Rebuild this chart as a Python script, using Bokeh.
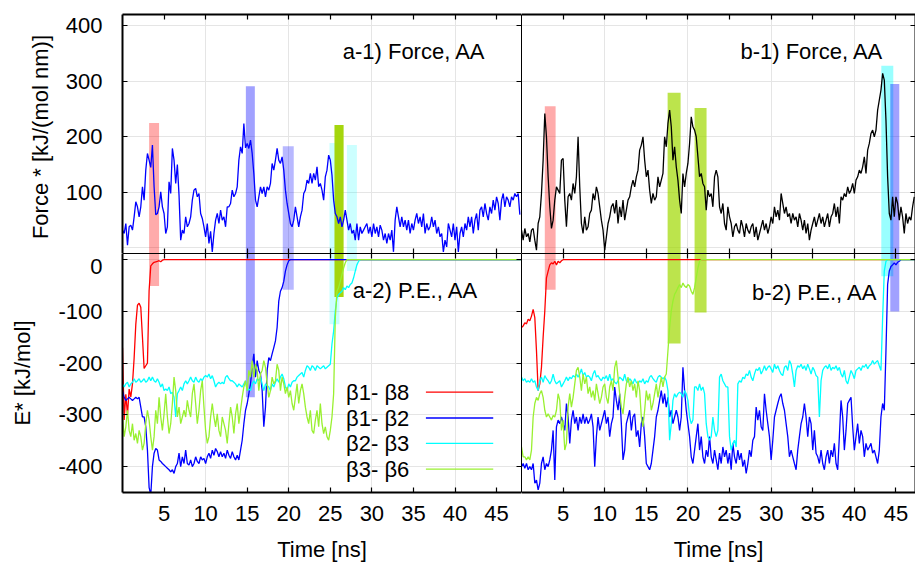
import numpy as np
from bokeh.plotting import figure
from bokeh.models import LinearAxis, FixedTicker, Range1d, Label, Arrow
from bokeh.layouts import column, row
from bokeh.embed import file_html
from bokeh.resources import INLINE

# ---------------- data ----------------
DT = 0.2  # ns between samples
X_END_A = 48.0
X_END_B = 47.35

# a-1) force, AA (kJ/(mol nm))
force_a = [
    32, 26, 44, 5, 38, 41, 32, 56, 83, 74,
    56, 74, 110, 86, 140, 170, 158, 145, 185, 110,
    60, 62, 74, 101, 74, 62, 26, 38, 119, 98,
    179, 158, 116, 150, 95, 14, 32, 26, 56, 38,
    44, 56, 86, 104, 107, 92, 98, 62, 53, 38,
    20, 44, 8, 30, -7, 26, 50, 62, 44, 68,
    50, 56, 38, 74, 74, 80, 104, 92, 98, 110,
    158, 182, 170, 224, 180, 188, 179, 194, 170, 134,
    86, 74, 92, 110, 98, 110, 92, 110, 104, 116,
    152, 140, 158, 179, 158, 152, 164, 140, 104, 80,
    62, 44, 38, 50, 74, 56, 38, 56, 68, 98,
    104, 122, 116, 134, 116, 134, 122, 146, 110, 116,
    104, 86, 128, 140, 167, 158, 131, 86, 62, 56,
    44, 56, 38, 50, 68, 50, 32, 44, 26, 32,
    14, 44, 14, 38, 26, 32, 38, 44, 26, 38,
    20, 44, 26, 38, 20, 41, 32, 14, 26, 8,
    26, 14, 32, -7, 50, 74, 56, 38, 56, 38,
    50, 32, 50, 26, 44, 32, 50, 62, 44, 56,
    38, 62, 26, 44, 32, 38, 56, 38, 50, 26,
    38, 20, 26, -7, 14, 2, 44, 32, 20, 44,
    14, 38, -7, 26, 38, 20, 44, 32, 56, 38,
    56, 26, 50, 62, 32, 68, 74, 56, 80, 62,
    50, 74, 62, 86, 68, 92, 80, 50, 86, 98,
    74, 92, 86, 74, 92, 86, 98, 92, 98, 60,
]

# b-1) force, AA (kJ/(mol nm))
force_b = [
    32, 14, 35, 20, 26, 11, 32, 35, 14, -4,
    44, 56, 98, 158, 242, 200, 128, 74, 35, 50,
    86, 110, 104, 98, 158, 161, 86, 38, 92, 98,
    86, 116, 98, 128, 200, 110, 44, 26, 56, 32,
    38, 62, 68, 98, 86, 110, 98, 74, 50, 32,
    -4, 20, 44, 56, 74, 80, 62, 86, 44, 74,
    56, 86, 50, 68, 86, 92, 110, 122, 110, 128,
    140, 176, 185, 200, 158, 128, 140, 104, 80, 98,
    86, 92, 128, 110, 122, 134, 200, 182, 224, 248,
    218, 158, 182, 146, 122, 86, 62, 134, 110, 134,
    152, 188, 236, 218, 212, 200, 164, 128, 134, 116,
    110, 68, 104, 92, 98, 74, 128, 140, 128, 74,
    62, 80, 44, 32, 74, 56, 44, 20, 38, 44,
    32, 26, 50, 38, 20, 44, 32, 26, 38, 44,
    20, 38, 14, 26, 38, 50, 32, 44, 26, 38,
    56, 44, 74, 56, 68, 50, 98, 80, 62, 74,
    56, 62, 44, 62, 50, 56, 38, 62, 50, 32,
    50, 26, 44, 14, 32, 44, 56, 38, 50, 62,
    44, 56, 38, 50, 62, 38, 56, 62, 80, 56,
    74, 44, 92, 86, 98, 92, 110, 98, 104, 116,
    98, 122, 128, 140, 134, 146, 164, 134, 176, 188,
    206, 212, 200, 212, 248, 266, 284, 314, 302, 230,
    128, 62, 50, 92, 56, 92, 80, 50, 74, 56,
    26, 62, 44, 56, 50, 74, 92,
]

# a-2) P.E., AA (kJ/mol); each series stays at 0 after its last sample
a_b1b8 = [
    -170, -310, -260, -300, -250, -265, -240, -190, -125, -88,
    -84, -92, -150, -210, -205, -200, -60, -12, -8, -5,
    -4, -3, -2, -4, -1, 0,
]
a_b1b2 = [
    -253, -266, -272, -269, -266, -269, -272, -269, -266, -269,
    -266, -285, -304, -304, -323, -368, -440, -455, -400, -374,
    -365, -368, -387, -390, -394, -397, -400, -403, -406, -410,
    -406, -413, -400, -394, -374, -400, -381, -394, -368, -394,
    -397, -387, -400, -394, -381, -390, -394, -381, -387, -384,
    -394, -381, -374, -384, -368, -378, -365, -371, -381, -371,
    -381, -374, -384, -368, -378, -384, -371, -381, -387, -378,
    -387, -368, -349, -317, -291, -278, -259, -240, -208, -182,
    -227, -195, -214, -221, -253, -323, -285, -214, -189, -195,
    -182, -170, -157, -131, -80, -61, -54, -42, -22, -10,
    -2, 0,
]
a_b2b3 = [
    -240, -246, -240, -237, -246, -240, -237, -230, -237, -234,
    -230, -237, -234, -230, -237, -234, -227, -234, -227, -234,
    -237, -230, -237, -246, -240, -253, -250, -253, -246, -259,
    -256, -266, -304, -259, -253, -246, -253, -240, -234, -240,
    -234, -227, -234, -237, -227, -234, -237, -230, -234, -227,
    -224, -227, -221, -230, -224, -234, -246, -240, -237, -240,
    -237, -240, -227, -224, -230, -234, -234, -237, -240, -246,
    -240, -243, -246, -240, -234, -253, -250, -253, -240, -234,
    -240, -230, -234, -227, -240, -253, -240, -243, -246, -253,
    -240, -246, -237, -230, -237, -227, -221, -230, -246, -253,
    -240, -246, -237, -234, -234, -227, -224, -221, -218, -227,
    -214, -205, -208, -214, -205, -208, -214, -205, -208, -211,
    -208, -205, -211, -208, -205, -202, -163, -138, -99, -74,
    -67, -64, -61, -54, -58, -51, -54, -48, -45, -35,
    -22, -10, -3, 0,
]
a_b3b6 = [
    -304, -342, -323, -291, -330, -342, -317, -349, -336, -355,
    -330, -342, -368, -355, -317, -291, -310, -342, -368, -342,
    -291, -317, -266, -304, -330, -298, -259, -304, -336, -317,
    -278, -227, -253, -304, -285, -317, -304, -291, -304, -272,
    -291, -304, -259, -240, -278, -317, -291, -253, -234, -285,
    -330, -355, -342, -304, -278, -304, -323, -298, -330, -342,
    -304, -317, -330, -355, -317, -285, -304, -336, -298, -278,
    -317, -291, -266, -246, -234, -253, -214, -227, -195, -227,
    -202, -214, -253, -221, -214, -195, -208, -240, -266, -253,
    -227, -240, -234, -202, -214, -253, -227, -240, -259, -246,
    -266, -253, -278, -291, -266, -240, -278, -253, -240, -259,
    -285, -304, -317, -291, -330, -336, -310, -291, -323, -278,
    -317, -336, -323, -342, -349, -330, -304, -259, -112, -61,
    -54, -42, -29, -16, -6, 0,
]

# b-2) P.E., AA (kJ/mol)
b_b1b8 = [
    -131, -128, -122, -124, -115, -118, -109, -96, -112, -176,
    -253, -240, -208, -150, -99, -35, -22, -10, -6, -8,
    -3, -10, -3, -6, -2, 0,
]
b_b1b2 = [
    -400, -394, -403, -394, -406, -400, -406, -394, -432, -426,
    -445, -432, -394, -381, -406, -394, -400, -387, -368, -330,
    -426, -323, -310, -317, -304, -317, -330, -278, -304, -355,
    -310, -291, -317, -304, -330, -304, -317, -298, -317, -304,
    -317, -310, -298, -323, -400, -342, -304, -330, -317, -304,
    -291, -317, -304, -342, -317, -304, -246, -272, -291, -259,
    -317, -387, -368, -317, -304, -291, -330, -304, -298, -342,
    -330, -362, -317, -304, -342, -394, -400, -406, -394, -368,
    -342, -304, -291, -272, -253, -278, -259, -285, -266, -304,
    -291, -317, -304, -291, -304, -330, -304, -208, -253, -291,
    -317, -342, -381, -394, -368, -342, -317, -368, -342, -381,
    -394, -368, -381, -342, -381, -394, -368, -387, -406, -374,
    -394, -362, -381, -368, -394, -374, -406, -355, -381, -394,
    -368, -387, -374, -400, -387, -413, -394, -368, -381, -349,
    -342, -285, -310, -291, -323, -330, -259, -291, -317, -342,
    -387, -349, -304, -291, -278, -266, -259, -278, -291, -317,
    -342, -381, -368, -381, -394, -406, -368, -342, -317, -304,
    -278, -304, -342, -304, -317, -368, -330, -374, -381, -394,
    -368, -394, -406, -381, -368, -394, -368, -381, -355, -394,
    -406, -342, -272, -304, -368, -330, -278, -272, -266, -323,
    -368, -342, -317, -355, -330, -342, -381, -355, -368, -362,
    -355, -374, -368, -381, -394, -368, -304, -278, -291, -176,
    -48, -22, -13, -10, -6, -10, -5, -3, 0,
]
b_b2b3 = [
    -227, -234, -230, -237, -234, -237, -230, -237, -234, -246,
    -253, -234, -227, -237, -224, -230, -234, -240, -234, -221,
    -234, -240, -237, -234, -246, -240, -234, -227, -234, -227,
    -230, -224, -227, -221, -227, -221, -211, -224, -218, -227,
    -224, -227, -234, -221, -214, -227, -224, -230, -234, -227,
    -230, -224, -234, -221, -234, -230, -237, -240, -234, -227,
    -230, -234, -221, -234, -237, -230, -234, -240, -230, -237,
    -240, -234, -237, -230, -240, -234, -237, -227, -224, -230,
    -234, -237, -227, -224, -227, -230, -227, -234, -253, -349,
    -317, -272, -259, -266, -259, -256, -259, -266, -253, -259,
    -272, -304, -317, -310, -246, -246, -253, -240, -253, -246,
    -259, -317, -342, -349, -342, -304, -330, -342, -330, -227,
    -221, -234, -240, -246, -246, -342, -368, -355, -349, -362,
    -240, -234, -237, -227, -230, -221, -224, -214, -227, -234,
    -221, -211, -214, -208, -221, -214, -205, -214, -208, -205,
    -211, -218, -202, -211, -205, -214, -221, -224, -208, -205,
    -214, -195, -202, -221, -246, -214, -205, -208, -202, -211,
    -205, -214, -202, -211, -221, -208, -214, -224, -227, -304,
    -234, -214, -208, -205, -211, -202, -214, -208, -211, -205,
    -214, -208, -221, -227, -214, -234, -240, -227, -214, -221,
    -230, -214, -211, -208, -214, -205, -208, -202, -211, -205,
    -202, -195, -202, -198, -195, -205, -214, -112, -22, -3,
    0,
]
b_b3b6 = [
    -362, -381, -381, -387, -381, -387, -368, -304, -278, -266,
    -272, -259, -253, -266, -291, -304, -298, -304, -310, -301,
    -304, -291, -259, -272, -330, -310, -368, -355, -285, -259,
    -285, -266, -240, -214, -208, -227, -253, -221, -240, -227,
    -259, -246, -266, -253, -272, -240, -259, -278, -266, -246,
    -240, -266, -278, -246, -234, -253, -208, -195, -227, -259,
    -285, -298, -266, -240, -227, -246, -234, -253, -240, -266,
    -234, -253, -304, -323, -291, -253, -272, -259, -291, -278,
    -259, -240, -266, -246, -227, -246, -227, -221, -176, -131,
    -99, -80, -67, -61, -54, -48, -54, -45, -51, -54,
    -48, -51, -61, -67, -54, -35, -16, -3, 0,
]

# highlighted events: start/end time (ns), top in force panel, bottom in P.E. panel
bars_a_start = [3.2, 14.84, 19.28, 24.9, 25.5, 27.0]
bars_a_end = [4.4, 15.92, 20.6, 26.1, 26.6, 28.2]
bars_a_force = [225, 291, 183, 189, 221, 185]
bars_a_energy = [-51, -266, -58, -125, -72, -22]

bars_b_start = [2.8, 17.56, 20.8, 43.24, 44.32]
bars_b_end = [4.1, 19.12, 22.24, 44.68, 45.4]
bars_b_force = [255, 279, 252, 328, 295]
bars_b_energy = [-58, -162, -102, -32, -100]

series_names = ["\u03b21- \u03b28", "\u03b21- \u03b22", "\u03b22- \u03b23", "\u03b23- \u03b26"]
x_ticks = [5, 10, 15, 20, 25, 30, 35, 40, 45]
force_ticks = [100, 200, 300, 400]
energy_ticks = [0, -100, -200, -300, -400]
energy_tick_labels = ["0", "-100", "-200", "-300", "-400"]

# ---------------- styles ----------------
FONT = "Liberation Sans"
FS = "22px"
SERIES_COLORS = ["#ff0000", "#0000ff", "#00ffff", "#99f030"]
bars_a_color = ["#ff0000", "#0000ff", "#0000ff", "#00ffff", "#a0d400", "#00ffff"]
bars_a_alpha = [0.33, 0.37, 0.28, 0.2, 0.95, 0.2]
bars_b_color = ["#ff0000", "#a0d800", "#a0d800", "#00ffff", "#0000ff"]
bars_b_alpha = [0.33, 0.7, 0.7, 0.4, 0.37]

F_RANGE = (-10, 420)
E_RANGE = (-450, 12)
# the "0" label of the P.E. axis sits on the panel boundary; its text is placed
# this many kJ/mol lower so that it stays inside the lower canvas
ZERO_LABEL_SHIFT = -13


def make_fig(width, height, x_end, yr, mb_left, mb_top, mb_bottom):
    p = figure(width=width, height=height,
               x_range=Range1d(0, x_end), y_range=Range1d(*yr),
               x_axis_location=None, y_axis_location=None,
               toolbar_location=None, output_backend="svg",
               min_border_left=mb_left, min_border_right=0,
               min_border_top=mb_top, min_border_bottom=mb_bottom)
    p.outline_line_color = None
    p.background_fill_color = "white"
    p.border_fill_color = "white"
    return p


def style_axis(ax, line_w, tick_in):
    ax.major_tick_out = 0
    ax.minor_tick_out = 0
    ax.axis_line_width = line_w
    ax.axis_line_color = "black"
    ax.major_tick_line_width = 1.2
    ax.major_tick_line_color = "black"
    ax.minor_tick_line_width = 1.2
    ax.minor_tick_line_color = "black"
    ax.major_tick_in = tick_in
    ax.minor_tick_in = 0


def set_title(ax, title, title_standoff):
    ax.axis_label = title
    ax.axis_label_text_font = FONT
    ax.axis_label_text_font_size = FS
    ax.axis_label_text_font_style = "normal"
    ax.axis_label_text_color = "black"
    ax.axis_label_standoff = title_standoff


def add_axis(p, side, ticks, line_w, labels=False, tick_in=5,
             standoff=0, title=None, title_standoff=0):
    ax = LinearAxis(ticker=FixedTicker(ticks=ticks, minor_ticks=[]))
    style_axis(ax, line_w, tick_in)
    if labels:
        ax.major_label_text_font = FONT
        ax.major_label_text_font_size = FS
        ax.major_label_text_color = "black"
        ax.major_label_standoff = standoff
        ax.major_label_overrides = {t: str(t) for t in ticks}
    else:
        ax.major_label_text_font_size = "0px"
        ax.major_label_text_color = None
        ax.major_label_standoff = 0
    if title:
        set_title(ax, title, title_standoff)
    p.add_layout(ax, side)
    return ax


def draw_force(p, vals, color, bs, be, bf, bcol, balpha):
    p.quad(left=bs, right=be, bottom=[F_RANGE[0]] * len(bs), top=bf,
           fill_color=bcol, fill_alpha=balpha, line_color=None)
    t = np.arange(len(vals)) * DT
    p.line(t, vals, line_color=color, line_width=1.3)


def draw_energy(p, series, x_end, bs, be, bb, bcol, balpha):
    p.quad(left=bs, right=be, bottom=bb, top=[E_RANGE[1]] * len(bs),
           fill_color=bcol, fill_alpha=balpha, line_color=None)
    for vals, col in zip(series, SERIES_COLORS):
        t = np.append(np.arange(len(vals)) * DT, x_end)
        v = np.append(np.array(vals, dtype=float), 0.0)
        p.line(t, v, line_color=col, line_width=1.3)


def add_label(p, text, x, y, align="right"):
    p.add_layout(Label(x=x, y=y, text=text, text_font=FONT, text_font_size=FS,
                       text_align=align, text_baseline="middle", text_color="black"))


# ---------------- panels ----------------
LEFT_W, RIGHT_W = 521, 394
TOP_H, BOT_H = 253, 315

tl = make_fig(LEFT_W, TOP_H, X_END_A, F_RANGE, 122, 14, 0)
add_axis(tl, "left", force_ticks, 2, labels=True, standoff=20,
         title="Force *  [kJ/(mol nm)]", title_standoff=10)
add_axis(tl, "above", x_ticks, 2)
add_axis(tl, "right", force_ticks, 1)
add_axis(tl, "below", x_ticks, 1)
draw_force(tl, force_a, "#0000ff", bars_a_start, bars_a_end, bars_a_force,
           bars_a_color, bars_a_alpha)
add_label(tl, "a-1) Force, AA", 43.7, 354)

tr = make_fig(RIGHT_W, TOP_H, X_END_B, F_RANGE, 0, 14, 0)
add_axis(tr, "left", [], 1, tick_in=0)
add_axis(tr, "above", x_ticks, 2)
add_axis(tr, "right", force_ticks, 2)
add_axis(tr, "below", x_ticks, 1)
draw_force(tr, force_b, "#000000", bars_b_start, bars_b_end, bars_b_force,
           bars_b_color, bars_b_alpha)
add_label(tr, "b-1) Force, AA", 43.5, 354)

bl = make_fig(LEFT_W, BOT_H, X_END_A, E_RANGE, 122, 0, 76)
# P.E. axis: tick marks drawn as minor ticks at the true values, labels as
# (mark-less) major ticks so that the "0" text can be nudged inside the canvas
label_pos = [t + (ZERO_LABEL_SHIFT if t == 0 else 0) for t in energy_ticks]
e_axis = LinearAxis(ticker=FixedTicker(ticks=label_pos, minor_ticks=energy_ticks))
style_axis(e_axis, 2, 0)
e_axis.minor_tick_in = 5
e_axis.major_label_text_font = FONT
e_axis.major_label_text_font_size = FS
e_axis.major_label_text_color = "black"
e_axis.major_label_standoff = 20
e_axis.major_label_overrides = dict(zip(label_pos, energy_tick_labels))
set_title(e_axis, "E* [kJ/mol]", 20)
bl.add_layout(e_axis, "left")
add_axis(bl, "above", x_ticks, 1)
add_axis(bl, "right", energy_ticks, 1)
add_axis(bl, "below", x_ticks, 2, labels=True, standoff=13,
         title="Time [ns]", title_standoff=13)
draw_energy(bl, [a_b1b8, a_b1b2, a_b2b3, a_b3b6], X_END_A,
            bars_a_start, bars_a_end, bars_a_energy, bars_a_color, bars_a_alpha)
add_label(bl, "a-2) P.E., AA", 42.8, -60)

# legend (gnuplot style: text, then line sample)
legend_y = [-256, -306, -355, -405]
for name, col, y in zip(series_names, SERIES_COLORS, legend_y):
    add_label(bl, name, 34.5, y)
    bl.add_layout(Arrow(end=None, x_start=36.5, y_start=y, x_end=44.6, y_end=y,
                        line_color=col, line_width=1.3))

br = make_fig(RIGHT_W, BOT_H, X_END_B, E_RANGE, 0, 0, 76)
add_axis(br, "left", [], 1, tick_in=0)
add_axis(br, "above", x_ticks, 1)
add_axis(br, "right", energy_ticks, 2)
add_axis(br, "below", x_ticks, 2, labels=True, standoff=13,
         title="Time [ns]", title_standoff=13)
draw_energy(br, [b_b1b8, b_b1b2, b_b2b3, b_b3b6], X_END_B,
            bars_b_start, bars_b_end, bars_b_energy, bars_b_color, bars_b_alpha)
add_label(br, "b-2) P.E., AA", 42.8, -63)

layout = column(row(tl, tr), row(bl, br))

html = file_html(layout, INLINE, title="Force and P.E.")
html = html.replace("<head>", "<head><style>html,body{margin:0;padding:0;}</style>", 1)
open("out.html", "w").write(html)
